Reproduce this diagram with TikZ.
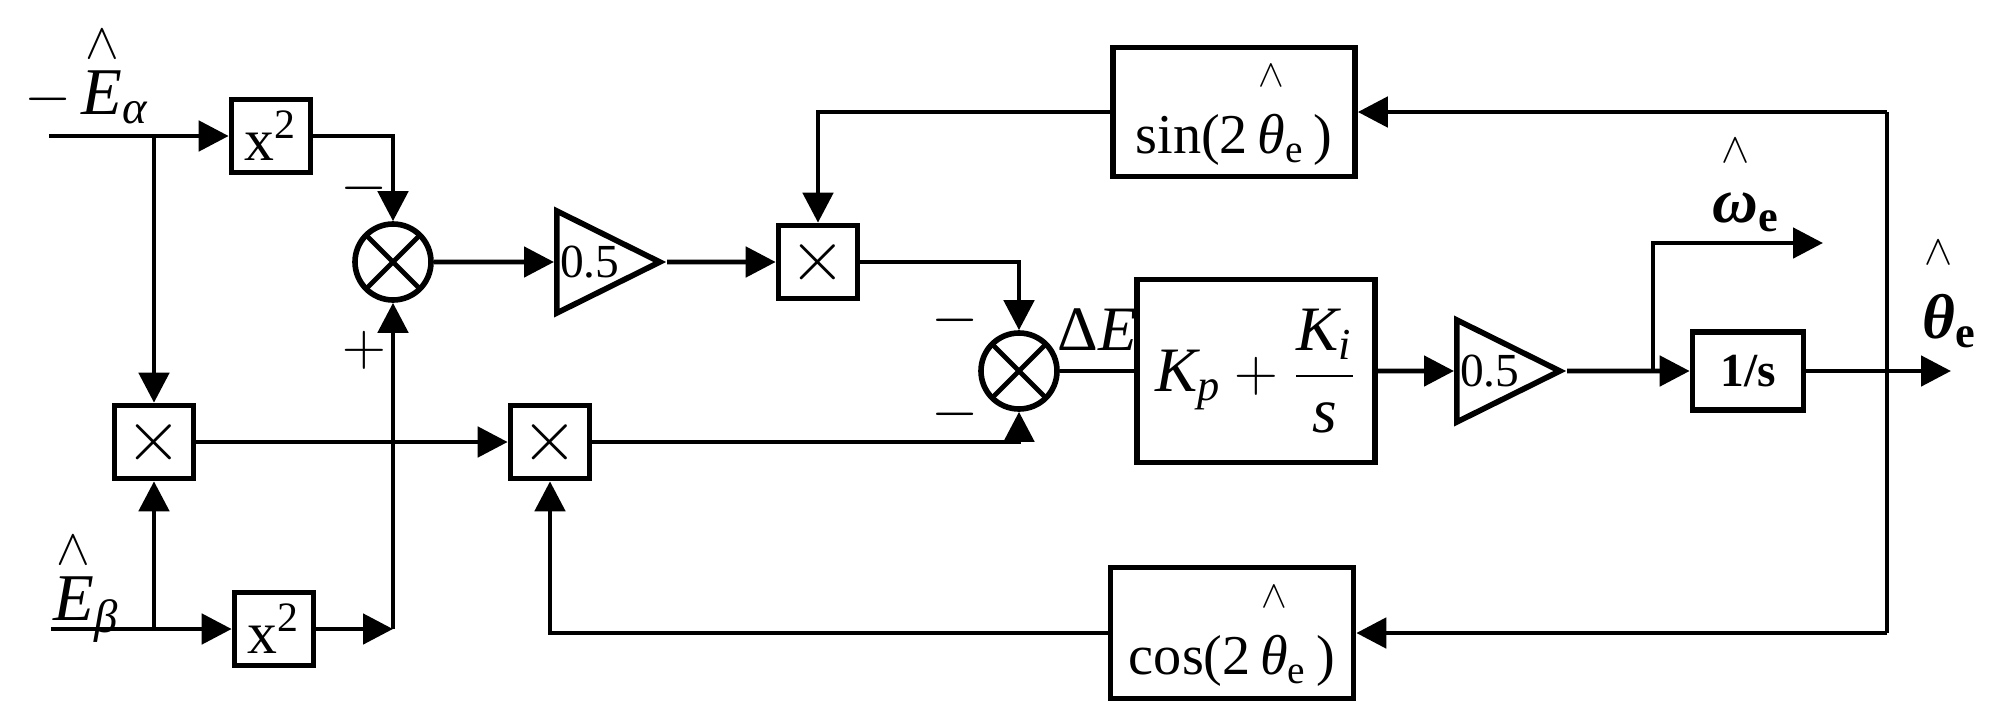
\documentclass[tikz,border=0pt]{standalone}
\usepackage{amsmath}
\usepackage{fontspec}
\setmainfont{Liberation Serif}
\usepackage{tikz}
\usetikzlibrary{arrows.meta,shapes.geometric,positioning,calc}
\newcommand{\uphat}[2][0.6ex]{\overset{\raisebox{#1}{$\scriptstyle\wedge$}}{#2}}

\begin{document}
\begin{tikzpicture}[
    line width=1.4pt,
    blk/.style={rectangle, draw, line width=1.6pt, inner sep=0pt, align=center, font=\fontsize{16}{18}\selectfont},
    sq/.style={blk, minimum width=0.79cm, minimum height=0.73cm, font=\fontsize{17}{19}\selectfont},
    mult/.style={blk, minimum width=0.79cm, minimum height=0.73cm, font=\fontsize{20}{22}\selectfont},
    sumc/.style={circle, draw, line width=1.6pt, minimum size=0.76cm, inner sep=0pt,
        path picture={\draw[line width=1.4pt] (path picture bounding box.north west) -- (path picture bounding box.south east)
            (path picture bounding box.north east) -- (path picture bounding box.south west);}},
    gain/.style={isosceles triangle, isosceles triangle stretches, draw, line width=1.6pt, inner sep=0pt,
        minimum width=1.02cm, minimum height=1.03cm, font=\fontsize{13.5}{15}\selectfont},
    mlab/.style={inner sep=0pt, font=\fontsize{19}{21}\selectfont},
    sgn/.style={inner sep=0pt, font=\fontsize{16}{18}\selectfont},
    arrow/.style={-{Triangle[length=3mm,width=3mm]}}
]
    \useasboundingbox (0,0) rectangle (20,7.12);

    \node[sq] (sqA) at (2.71,5.76) {x\textsuperscript{2}};
    \node[sq] (sqB) at (2.74,0.83) {x\textsuperscript{2}};
    \node[mult] (mulA) at (1.54,2.70) {$\times$};
    \node[mult] (mulB) at (5.50,2.70) {$\times$};
    \node[sumc] (sum1) at (3.93,4.50) {};
    \node[gain, anchor=west] (gainA) at (5.54,4.50) {0.5};
    \node[mult] (mulC) at (8.18,4.50) {$\times$};
    \node[blk, minimum width=2.42cm, minimum height=1.29cm] (sinb) at (12.34,6.00) {sin(2\,$\uphat{\textit{θ}}_{\text{e}}$\,)};
    \node[sumc] (sum2) at (10.19,3.41) {};
    \node[blk, minimum width=2.38cm, minimum height=1.83cm, font=\fontsize{18}{20}\selectfont] (pi) at (12.56,3.41)
        {$\textit{K}_{\textit{p}}+\dfrac{\textit{K}_{\textit{i}}}{\textit{s}}$};
    \node[gain, anchor=west] (gainB) at (14.54,3.41) {0.5};
    \node[blk, minimum width=1.11cm, minimum height=0.78cm, font=\fontsize{13.5}{15}\selectfont] (integ) at (17.48,3.41) {\textbf{1/s}};
    \node[blk, minimum width=2.43cm, minimum height=1.31cm] (cosb) at (12.32,0.79) {cos(2\,$\uphat{\textit{θ}}_{\text{e}}$\,)};

    \coordinate (inA) at (0.49,5.76);
    \coordinate (brA) at (1.54,5.76);
    \coordinate (inB) at (0.51,0.83);
    \coordinate (brB) at (1.54,0.83);
    \coordinate (jn) at (3.93,0.83);
    \coordinate (brW) at (16.53,3.41);
    \coordinate (wOut) at (18.23,4.69);
    \coordinate (thOut) at (19.51,3.41);
    \coordinate (fbT) at (18.87,6.00);
    \coordinate (fbB) at (18.87,0.79);

    \node[mlab, anchor=base west] (lEa) at (0.22,5.98) {$-\,\uphat[0ex]{\textit{E}}_{\textit{α}}$};
    \node[mlab, anchor=base west] (lEb) at (0.51,0.92) {$\uphat[0ex]{\textit{E}}_{\textit{β}}$};
    \node[mlab, anchor=base west, font=\fontsize{18}{20}\selectfont] (lW) at (17.10,4.90) {$\uphat{\textbf{\textit{ω}}}_{\textbf{e}}$};
    \node[mlab, anchor=base west, font=\fontsize{18}{20}\selectfont] (lTh) at (19.20,3.74) {$\uphat{\textbf{\textit{θ}}}_{\textbf{e}}$};
    \node[mlab, anchor=base west, font=\fontsize{18}{20}\selectfont] (lDE) at (10.55,3.62) {Δ\textit{E}};
    \node[sgn] (s1) at (3.64,5.24) {$-$};
    \node[sgn] (s2) at (3.64,3.62) {$+$};
    \node[sgn] (s3) at (9.55,3.92) {$-$};
    \node[sgn] (s4) at (9.55,2.98) {$-$};

    \draw[arrow] (inA) -- (sqA);
    \draw[arrow] (brA) -- (mulA);
    \draw[arrow] (sqA) -| (sum1);
    \draw[arrow] (inB) -- (sqB);
    \draw[arrow] (brB) -- (mulA);
    \draw[arrow] (sqB) -- (jn);
    \draw[arrow] (jn) -- (sum1);
    \draw[arrow] (mulA) -- (mulB);
    \draw[arrow] (sum1) -- (gainA);
    \draw[arrow] (gainA.apex) -- (mulC);
    \draw[arrow] (sinb) -| (mulC);
    \draw[arrow] (mulC) -| (sum2);
    \draw[arrow] (mulB) -| (sum2);
    \draw (sum2) -- (pi);
    \draw[arrow] (pi) -- (gainB);
    \draw[arrow] (gainB.apex) -- (integ);
    \draw[arrow] (brW) |- (wOut);
    \draw[arrow] (integ) -- (thOut);
    \draw (fbB) -- (fbT);
    \draw[arrow] (fbT) -- (sinb);
    \draw[arrow] (fbB) -- (cosb);
    \draw[arrow] (cosb) -| (mulB);
\end{tikzpicture}
\end{document}
